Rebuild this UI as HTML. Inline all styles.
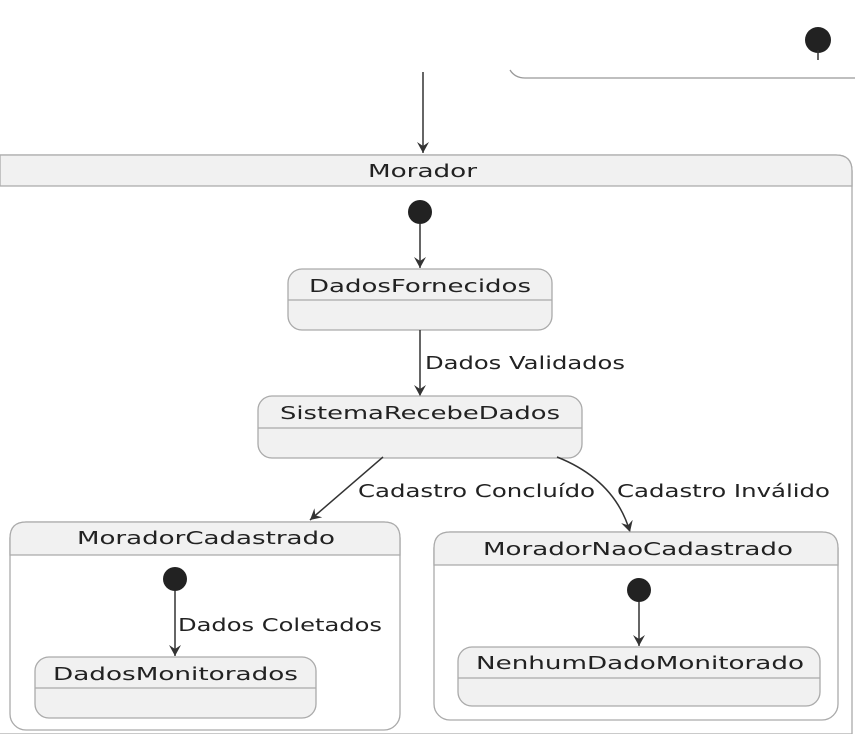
<!DOCTYPE html>
<html><head><meta charset="utf-8"><style>
html,body{margin:0;padding:0;background:#fff;}
svg{display:block;}
text{font-family:"DejaVu Sans","Liberation Sans",sans-serif;font-size:18px;fill:#222;}
</style></head><body>
<svg width="855" height="734" viewBox="0 0 855 734" xmlns="http://www.w3.org/2000/svg">
<defs>
<marker id="a" viewBox="0 0 12 12" refX="11" refY="6" markerWidth="12" markerHeight="12" markerUnits="userSpaceOnUse" orient="auto">
<path d="M0,0 L11,6 L0,12 L4,6 Z" fill="#333"/>
</marker>
</defs>
<g stroke="#999" stroke-width="1.3" fill="none">
<path d="M510,70 Q515,78 525,78 L855,78"/>
</g>
<circle cx="818" cy="40" r="13" fill="#222"/>
<line x1="818" y1="50" x2="818" y2="60" stroke="#333" stroke-width="1.5"/>
<line x1="423" y1="72" x2="423" y2="153" stroke="#333" stroke-width="1.5" marker-end="url(#a)"/>

<path d="M0,155 L836,155 Q852,155 852,171 L852,734 L0,734" fill="#fff" stroke="#aaa" stroke-width="1.3"/>
<path d="M0,155 L836,155 Q852,155 852,171 L852,186 L0,186 Z" fill="#f1f1f1" stroke="#aaa" stroke-width="1.3"/>
<text x="368" y="177" textLength="109" lengthAdjust="spacingAndGlyphs">Morador</text>

<circle cx="420" cy="212" r="12" fill="#222"/>
<line x1="420" y1="224" x2="420" y2="268" stroke="#333" stroke-width="1.5" marker-end="url(#a)"/>

<rect x="288" y="269" width="264" height="61" rx="14" fill="#f1f1f1" stroke="#aaa" stroke-width="1.3"/>
<line x1="288" y1="300" x2="552" y2="300" stroke="#aaa" stroke-width="1.3"/>
<text x="309" y="292" textLength="222" lengthAdjust="spacingAndGlyphs">DadosFornecidos</text>

<line x1="420" y1="330" x2="420" y2="396" stroke="#333" stroke-width="1.5" marker-end="url(#a)"/>
<text x="425" y="369" textLength="200" lengthAdjust="spacingAndGlyphs">Dados Validados</text>

<rect x="258" y="396" width="324" height="62" rx="14" fill="#f1f1f1" stroke="#aaa" stroke-width="1.3"/>
<line x1="258" y1="428" x2="582" y2="428" stroke="#aaa" stroke-width="1.3"/>
<text x="280" y="419" textLength="280" lengthAdjust="spacingAndGlyphs">SistemaRecebeDados</text>

<line x1="383" y1="457" x2="310" y2="520" stroke="#333" stroke-width="1.5" marker-end="url(#a)"/>
<text x="358" y="497" textLength="237" lengthAdjust="spacingAndGlyphs">Cadastro Concluído</text>
<path d="M557,457 Q615,480 630,532" fill="none" stroke="#333" stroke-width="1.5" marker-end="url(#a)"/>
<text x="617" y="497" textLength="213" lengthAdjust="spacingAndGlyphs">Cadastro Inválido</text>

<rect x="10" y="522" width="390" height="208" rx="16" fill="#fff" stroke="#aaa" stroke-width="1.3"/>
<path d="M10,555 L10,538 Q10,522 26,522 L384,522 Q400,522 400,538 L400,555 Z" fill="#f1f1f1" stroke="#aaa" stroke-width="1.3"/>
<text x="77" y="544" textLength="258" lengthAdjust="spacingAndGlyphs">MoradorCadastrado</text>
<circle cx="175" cy="579" r="12" fill="#222"/>
<line x1="175" y1="591" x2="175" y2="656" stroke="#333" stroke-width="1.5" marker-end="url(#a)"/>
<text x="178" y="631" textLength="204" lengthAdjust="spacingAndGlyphs">Dados Coletados</text>
<rect x="35" y="657" width="281" height="61" rx="14" fill="#f1f1f1" stroke="#aaa" stroke-width="1.3"/>
<line x1="35" y1="688" x2="316" y2="688" stroke="#aaa" stroke-width="1.3"/>
<text x="53" y="680" textLength="245" lengthAdjust="spacingAndGlyphs">DadosMonitorados</text>

<rect x="434" y="532" width="404" height="188" rx="16" fill="#fff" stroke="#aaa" stroke-width="1.3"/>
<path d="M434,565 L434,548 Q434,532 450,532 L822,532 Q838,532 838,548 L838,565 Z" fill="#f1f1f1" stroke="#aaa" stroke-width="1.3"/>
<text x="483" y="555" textLength="310" lengthAdjust="spacingAndGlyphs">MoradorNaoCadastrado</text>
<circle cx="639" cy="590" r="12" fill="#222"/>
<line x1="639" y1="602" x2="639" y2="646" stroke="#333" stroke-width="1.5" marker-end="url(#a)"/>
<rect x="458" y="647" width="362" height="59" rx="14" fill="#f1f1f1" stroke="#aaa" stroke-width="1.3"/>
<line x1="458" y1="678" x2="820" y2="678" stroke="#aaa" stroke-width="1.3"/>
<text x="476" y="669" textLength="328" lengthAdjust="spacingAndGlyphs">NenhumDadoMonitorado</text>
</svg>
</body></html>
